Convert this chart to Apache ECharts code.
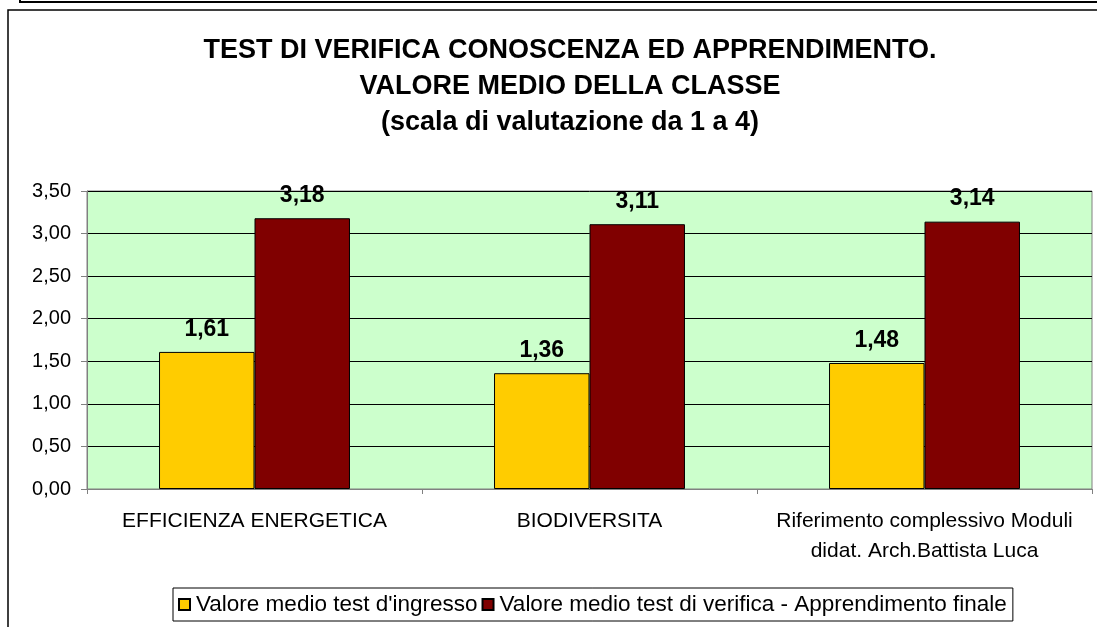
<!DOCTYPE html>
<html lang="it">
<head>
<meta charset="utf-8">
<script src="https://cdn.jsdelivr.net/npm/echarts@6/dist/echarts.min.js"></script>
<style>
  html, body { margin: 0; padding: 0; background: #fff; }
  #chart { width: 1097px; height: 627px; }
</style>
</head>
<body>
<div id="chart"></div>
<script>
// dati del grafico
const categorie = ['EFFICIENZA ENERGETICA', 'BIODIVERSITA', 'Riferimento complessivo Moduli\ndidat. Arch.Battista Luca'];
const nomiSerie = ["Valore medio test d'ingresso", 'Valore medio test di verifica - Apprendimento finale'];
const valoriIngresso = [1.61, 1.36, 1.48];
const valoriFinale = [3.18, 3.11, 3.14];
const titolo = 'TEST DI VERIFICA CONOSCENZA ED APPRENDIMENTO.\nVALORE MEDIO DELLA CLASSE\n(scala di valutazione da 1 a 4)';

const FONT = '"Liberation Sans", Arial, sans-serif';
const virgola = v => Number(v).toFixed(2).replace('.', ',');

let chart = echarts.init(document.getElementById('chart'));

const etichetta = {
    show: true,
    position: 'top',
    distance: 11,
    fontFamily: FONT,
    fontSize: 23,
    fontWeight: 'bold',
    color: '#000',
    formatter: p => virgola(p.value)
};

const option = {
    animation: false,
    backgroundColor: '#fff',
    title: {
        text: titolo,
        left: 565,
        textAlign: 'center',
        top: 28,
        textStyle: {
            fontFamily: FONT,
            fontSize: 27,
            fontWeight: 'bold',
            color: '#000',
            lineHeight: 36
        }
    },
    graphic: [
        // riquadro superiore
        { type: 'rect', shape: { x: 20, y: -10, width: 1090, height: 12 },
          style: { fill: 'none', stroke: '#000', lineWidth: 2 } },
        // bordo del grafico
        { type: 'rect', shape: { x: 8, y: 10, width: 1100, height: 700 },
          style: { fill: 'none', stroke: '#000', lineWidth: 1.5 } }
    ],
    legend: {
        bottom: 6,
        left: 173,
        itemWidth: 11,
        itemHeight: 11,
        itemGap: 4,
        padding: [5, 6, 5, 5],
        borderColor: '#000',
        borderWidth: 1,
        icon: 'rect',
        textStyle: { fontFamily: FONT, fontSize: 22.5, color: '#000', padding: [0, 0, 0, 1] },
        data: nomiSerie
    },
    grid: {
        left: 87,
        right: 5,
        top: 191,
        bottom: 138,
        show: true,
        backgroundColor: '#CCFFCC',
        borderColor: '#808080',
        borderWidth: 1
    },
    xAxis: {
        type: 'category',
        data: categorie,
        axisLine: { lineStyle: { color: '#808080', width: 1 } },
        axisTick: { show: true, length: 5, lineStyle: { color: '#808080' } },
        axisLabel: {
            fontFamily: FONT,
            fontSize: 21,
            color: '#000',
            margin: 17,
            lineHeight: 30,
            interval: 0
        }
    },
    yAxis: {
        type: 'value',
        min: 0,
        max: 3.5,
        interval: 0.5,
        axisLine: { show: true, lineStyle: { color: '#808080', width: 1 } },
        axisTick: { show: true, length: 6, lineStyle: { color: '#808080' } },
        splitLine: { lineStyle: { color: '#000', width: 1 } },
        axisLabel: {
            fontFamily: FONT,
            fontSize: 20,
            color: '#000',
            margin: 16,
            formatter: virgola
        }
    },
    series: [
        {
            name: nomiSerie[0],
            type: 'bar',
            data: valoriIngresso,
            barGap: '0%',
            barCategoryGap: '43%',
            itemStyle: { color: '#FFCC00', borderColor: '#000', borderWidth: 1 },
            label: etichetta
        },
        {
            name: nomiSerie[1],
            type: 'bar',
            data: valoriFinale,
            itemStyle: { color: '#800000', borderColor: '#000', borderWidth: 1 },
            label: etichetta
        }
    ]
};

chart.setOption(option);
</script>
</body>
</html>
